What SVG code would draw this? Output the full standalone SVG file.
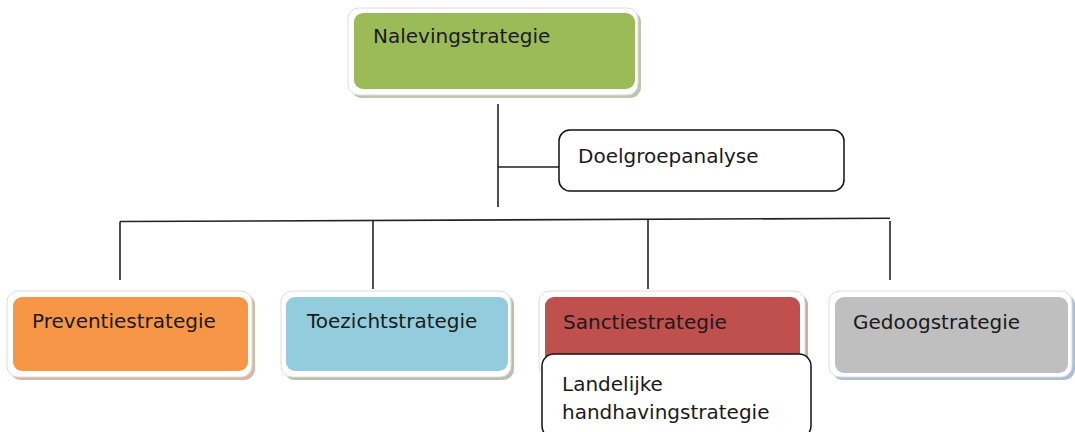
<svg xmlns="http://www.w3.org/2000/svg" width="1075" height="432" viewBox="0 0 1075 432">
<style>
.lbl{font-family:"DejaVu Sans","Liberation Sans",sans-serif;font-size:20px;fill:#1a1a1a}
.frame{fill:#ffffff;stroke:#dcdcdc;stroke-width:1}
.conn{stroke:#222;stroke-width:1.6;fill:none}
.box{fill:#ffffff;stroke:#111;stroke-width:1.5}
</style>
<rect width="1075" height="432" fill="#ffffff"/>
<g id="connectors">
<line class="conn" x1="498" y1="104" x2="498" y2="207"/>
<line class="conn" x1="498" y1="167" x2="559" y2="167"/>
<line class="conn" x1="120" y1="221.5" x2="890" y2="218.3"/>
<line class="conn" x1="120" y1="221.5" x2="120" y2="280"/>
<line class="conn" x1="373" y1="220.5" x2="373" y2="289"/>
<line class="conn" x1="648" y1="219.5" x2="648" y2="289"/>
<line class="conn" x1="890" y1="221" x2="890" y2="280"/>
</g>
<g id="nalevingstrategie">
<rect x="351" y="11" width="290" height="87" rx="11" fill="#8f9f78" opacity="0.6"/>
<rect class="frame" x="348" y="8" width="290" height="87" rx="11"/>
<rect x="354" y="13" width="281" height="76" rx="9" fill="#9bbb59"/>
<text class="lbl" x="373" y="43">Nalevingstrategie</text>
</g>
<g id="doelgroepanalyse">
<rect class="box" x="559" y="130" width="285" height="61" rx="11"/>
<text class="lbl" x="578" y="163">Doelgroepanalyse</text>
</g>
<g id="preventiestrategie">
<rect x="10" y="294" width="245" height="86" rx="11" fill="#c49a80" opacity="0.7"/>
<rect class="frame" x="7" y="291" width="245" height="86" rx="11"/>
<rect x="13" y="297" width="235" height="74" rx="9" fill="#f79646"/>
<text class="lbl" x="32" y="328">Preventiestrategie</text>
</g>
<g id="toezichtstrategie">
<rect x="284" y="294" width="230" height="86" rx="11" fill="#9aa68a" opacity="0.7"/>
<rect class="frame" x="281" y="291" width="230" height="86" rx="11"/>
<rect x="286" y="297" width="222" height="74" rx="9" fill="#93cddd"/>
<text class="lbl" x="307" y="328">Toezichtstrategie</text>
</g>
<g id="sanctiestrategie">
<rect x="542" y="294" width="266" height="86" rx="11" fill="#b08a88" opacity="0.7"/>
<rect class="frame" x="539" y="291" width="266" height="86" rx="11"/>
<rect x="545" y="297" width="255" height="76" rx="9" fill="#c0504d"/>
<text class="lbl" x="563" y="329">Sanctiestrategie</text>
</g>
<g id="gedoogstrategie">
<rect x="832" y="294" width="243" height="86" rx="11" fill="#8fa3bd" opacity="0.7"/>
<rect class="frame" x="829" y="291" width="243" height="86" rx="11"/>
<rect x="835" y="297" width="233" height="76" rx="9" fill="#bfbfbf"/>
<text class="lbl" x="853" y="329">Gedoogstrategie</text>
</g>
<g id="landelijke-handhavingstrategie">
<rect class="box" x="542" y="354" width="269" height="84" rx="12"/>
<text class="lbl" x="562" y="391">Landelijke</text>
<text class="lbl" x="562" y="419">handhavingstrategie</text>
</g>
</svg>
